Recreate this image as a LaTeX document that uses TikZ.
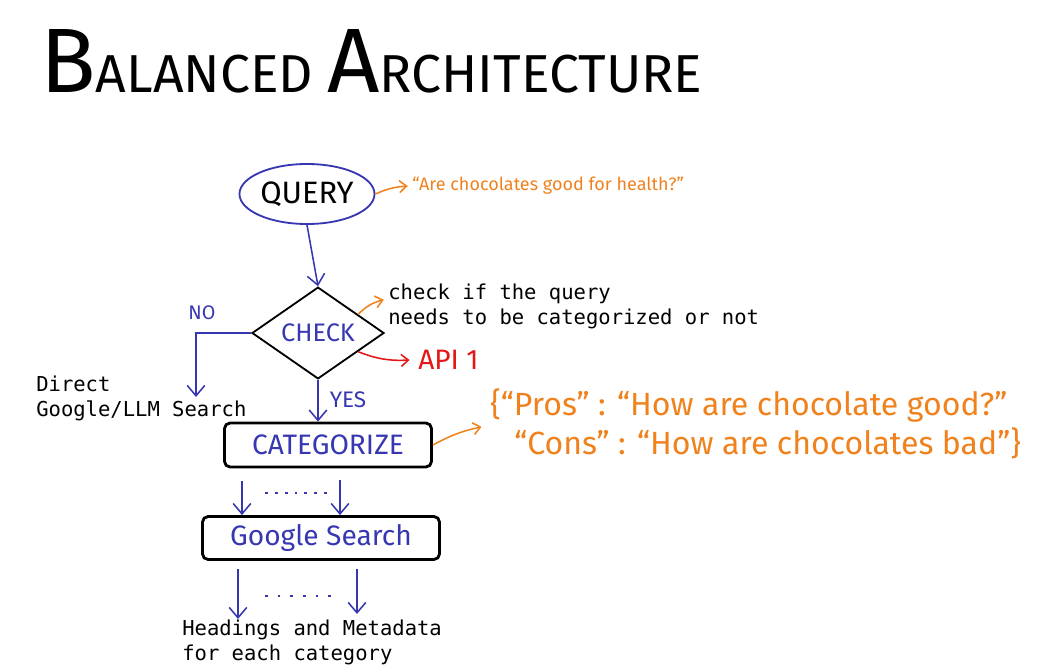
\documentclass[tikz,border=0pt]{standalone}
\usepackage{fontspec}
\setmonofont{DejaVu Sans Mono}
\newfontfamily\handfont{Fira Sans}
\usetikzlibrary{arrows.meta, calc, shapes.geometric}

\definecolor{inkblue}{RGB}{55,55,178}
\definecolor{inkorange}{RGB}{240,130,30}
\definecolor{inkred}{RGB}{228,22,22}

\tikzset{
    flow/.style={inkblue, line width=1.1pt, -{Straight Barb[length=2.6mm, width=4.4mm]}},
    note/.style={inkorange, line width=1.1pt, -{Straight Barb[length=1.8mm, width=3mm]}},
    monotext/.style={font=\ttfamily\fontsize{14.6pt}{17.7pt}\selectfont, align=left, inner sep=0pt, anchor=north west},
    handtext/.style={font=\handfont\fontsize{#1}{#1}\selectfont, inner sep=0pt},
    boxnode/.style={draw=black, line width=2pt, rounded corners=4pt, inner sep=0pt, text=inkblue},
}

\begin{document}
\begin{tikzpicture}[x=0.025cm, y=-0.025cm]
    \useasboundingbox (0,0) rectangle (1042,672);

    % Title
    \node[anchor=base west, inner sep=0pt, font=\handfont] (title) at (40,92)
        {\fontsize{65pt}{65pt}\selectfont B\fontsize{38pt}{38pt}\selectfont ALANCED \fontsize{65pt}{65pt}\selectfont A\fontsize{38pt}{38pt}\selectfont RCHITECTURE};

    % Query and the question
    \node[ellipse, draw=inkblue, line width=1.3pt, minimum width=3.375cm, minimum height=1.5cm, handtext=22pt] (query) at (307,194) {QUERY};
    \node[anchor=west, inkorange, handtext=12.8pt] (question) at (412,186) {“Are chocolates good for health?”};
    \draw[note] (query.east) to[bend left=10] ([xshift=-3pt]question.west);

    % Check
    \node[diamond, draw=black, line width=1.3pt, minimum width=3.3cm, minimum height=1.45cm, inner sep=0pt, text=inkblue, handtext=18pt] (check) at (318,333) {CHECK};
    \draw[flow] (query.south) -- (check.north);
    \node[monotext] (checknote) at (388,284) {check if the query\\needs to be categorized or not};
    \draw[note] ($(check.north)!0.6!(check.east)$) to[bend left=15] ([xshift=-3pt,yshift=5pt]checknote.west);
    \node[anchor=west, text=inkred, handtext=20pt] (api) at (418,360) {API 1};
    \draw[note, inkred] ($(check.south)!0.6!(check.east)$) to[bend right=12] ([xshift=-6pt]api.west);

    % No branch
    \coordinate (nofoot) at (196,397);
    \draw[flow] (check.west) -| (nofoot);
    \node[text=inkblue, handtext=14pt] (nolabel) at (202,313) {NO};
    \node[monotext] (direct) at (36,376) {Direct\\Google/LLM Search};

    % Yes branch
    \node[boxnode, minimum width=5.175cm, minimum height=1.1cm, handtext=20pt] (categorize) at (328,445) {CATEGORIZE};
    \draw[flow] (check.south) -- (check.south |- categorize.north);
    \node[text=inkblue, handtext=16pt] (yeslabel) at (348,400) {YES};
    \node[anchor=west, inkorange, handtext=22.8pt, align=left] (json) at (490,424)
        {\{“Pros” : “How are chocolate good?”\\[3pt]\hspace*{0.6cm}“Cons” : “How are chocolates bad”\}};
    \draw[note] (categorize.east) to[bend left=8] ([xshift=-6pt,yshift=-2pt]json.west);

    % Google search for each category
    \node[boxnode, minimum width=5.925cm, minimum height=1.075cm, handtext=20pt] (google) at (321,538) {Google Search};
    \coordinate (colA) at (242,0);
    \coordinate (colB) at (340,0);
    \draw[flow, shorten <=9pt] (categorize.south -| colA) -- (google.north -| colA);
    \draw[flow, shorten <=8pt] (categorize.south -| colB) -- (google.north -| colB);
    \draw[inkblue, line width=1.2pt, dash pattern=on 2pt off 5pt] (265,493) -- (333,493);

    % Results
    \node[monotext] (headings) at (182,620) {Headings and Metadata\\for each category};
    \coordinate (outA) at (238,619);
    \coordinate (outB) at (357,614);
    \draw[flow, shorten <=6pt] (google.south -| outA) -- (outA);
    \draw[flow, shorten <=6pt] (google.south -| outB) -- (outB);
    \draw[inkblue, line width=1.2pt, dash pattern=on 2pt off 7pt] (265,596) -- (335,596);
\end{tikzpicture}
\end{document}
